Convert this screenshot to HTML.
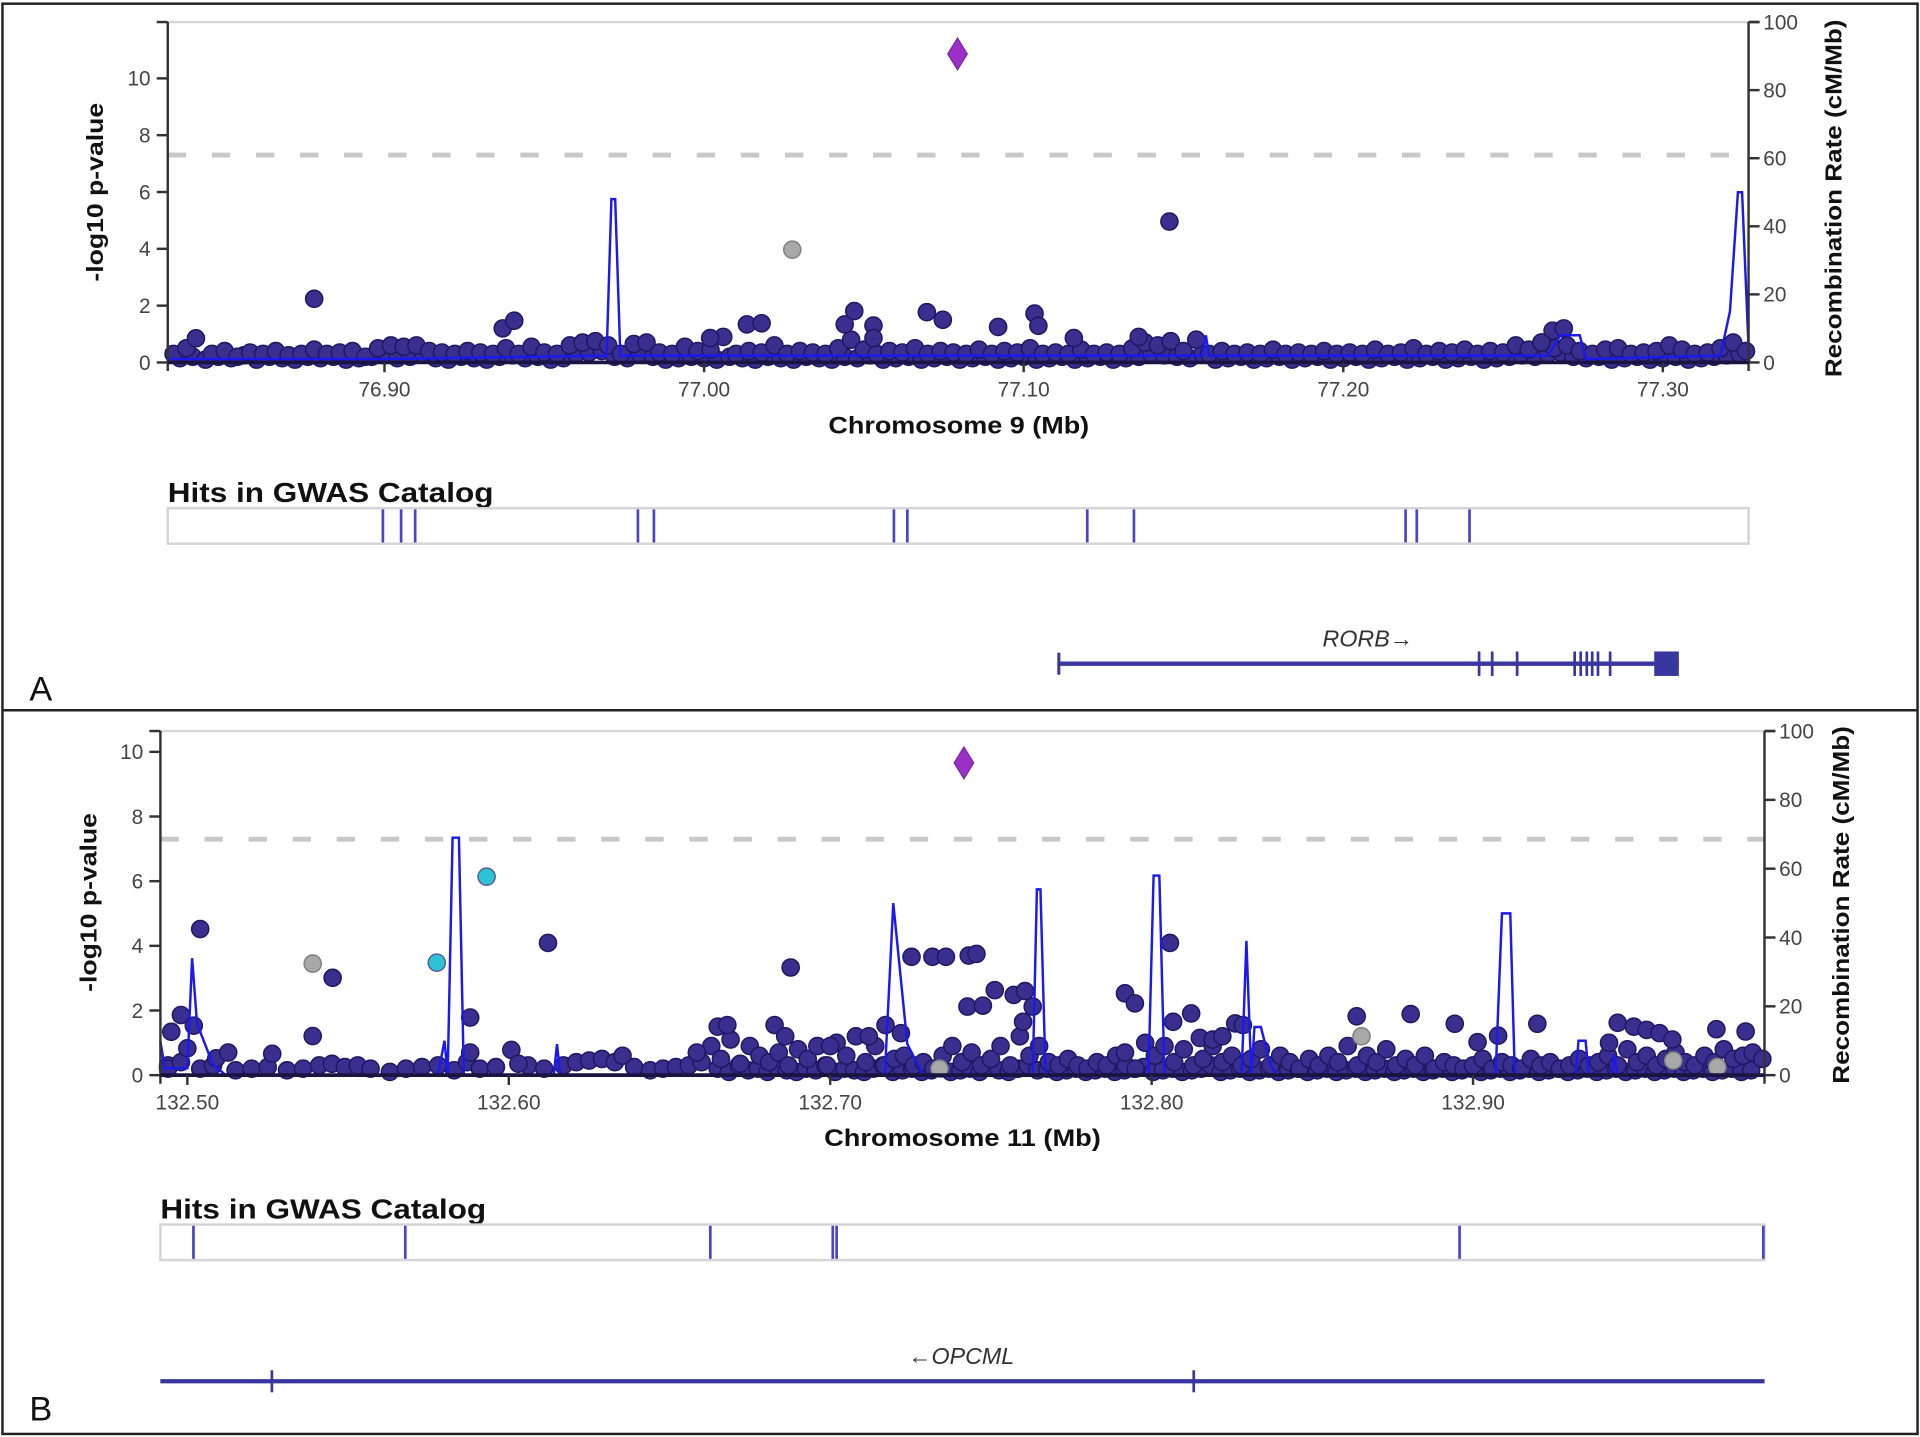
<!DOCTYPE html>
<html><head><meta charset="utf-8"><style>
html,body{margin:0;padding:0;background:#fff;}
svg{display:block;font-family:"Liberation Sans",Arial,sans-serif;}
</style></head><body>
<svg id="fig" xmlns="http://www.w3.org/2000/svg" width="1920" height="1437" viewBox="0 0 1568 1173.5" preserveAspectRatio="none">
<rect x="2" y="3" width="1564" height="1168" fill="#fff" stroke="#222" stroke-width="2"/>
<line x1="2" y1="580" x2="1566" y2="580" stroke="#222" stroke-width="2"/>
<text x="24" y="572" font-size="28" fill="#111">A</text>
<text x="24" y="1160" font-size="28" fill="#111">B</text>
</svg>
<script>
// ===== Panel A data (chr9) =====
const aTicksX = [76.90, 77.00, 77.10, 77.20, 77.30];
const aTickLabelsX = ["76.90", "77.00", "77.10", "77.20", "77.30"];
const aSnpPos = [76.834,76.838,76.841,76.846,76.850,76.854,76.858,76.862,76.866,76.870,76.874,76.878,76.882,76.886,76.890,76.894,76.898,76.902,76.906,76.910,76.914,76.918,76.922,76.926,76.930,76.934,76.938,76.942,76.946,76.950,76.954,76.958,76.962,76.966,76.970,76.974,76.978,76.982,76.986,76.990,76.994,76.998,77.002,77.006,77.010,77.014,77.018,77.022,77.026,77.030,77.034,77.038,77.042,77.046,77.050,77.054,77.058,77.062,77.066,77.070,77.074,77.078,77.082,77.086,77.090,77.094,77.098,77.102,77.106,77.110,77.114,77.118,77.122,77.126,77.130,77.134,77.138,77.142,77.146,77.150,77.154,77.158,77.162,77.166,77.170,77.174,77.178,77.182,77.186,77.190,77.194,77.198,77.202,77.206,77.210,77.214,77.218,77.222,77.226,77.230,77.234,77.238,77.242,77.246,77.250,77.254,77.258,77.262,77.266,77.270,77.274,77.278,77.282,77.286,77.290,77.294,77.298,77.302,77.306,77.310,77.314,77.318,77.322,77.326,
76.878,76.937,76.9406,77.0019,77.0134,77.018,77.044,77.047,77.053,77.053,77.0697,77.0747,77.092,77.1034,77.1046,77.1157,77.1456,77.2655,77.269,77.262,77.136];
const aSnpLogP = [0.3,0.5,0.85,0.3,0.4,0.2,0.35,0.3,0.4,0.25,0.3,0.45,0.3,0.35,0.4,0.2,0.5,0.6,0.55,0.6,0.4,0.35,0.3,0.4,0.35,0.3,0.5,0.3,0.55,0.35,0.3,0.6,0.7,0.75,0.6,0.3,0.65,0.7,0.35,0.3,0.55,0.4,0.45,0.9,0.3,0.4,0.35,0.6,0.3,0.4,0.35,0.3,0.5,0.8,0.45,0.3,0.4,0.35,0.5,0.3,0.4,0.35,0.3,0.45,0.3,0.4,0.35,0.5,0.3,0.35,0.3,0.45,0.3,0.35,0.3,0.5,0.7,0.6,0.75,0.4,0.8,0.3,0.4,0.3,0.35,0.3,0.45,0.3,0.35,0.3,0.4,0.3,0.35,0.3,0.45,0.3,0.35,0.5,0.3,0.4,0.35,0.45,0.3,0.4,0.35,0.6,0.45,0.7,0.5,0.6,0.4,0.3,0.45,0.5,0.3,0.35,0.4,0.6,0.45,0.3,0.35,0.5,0.7,0.4,
2.24,1.2,1.47,0.86,1.34,1.38,1.34,1.81,1.3,0.86,1.77,1.5,1.25,1.72,1.29,0.86,4.96,1.12,1.2,0.7,0.9];
// dense low-lying SNPs forming the baseline band
const aLowPos = [76.836,76.840,76.844,76.848,76.852,76.856,76.860,76.864,76.868,76.872,76.876,76.880,76.884,76.888,76.892,76.896,76.900,76.904,76.908,76.912,76.916,76.920,76.924,76.928,76.932,76.936,76.940,76.944,76.948,76.952,76.956,76.960,76.964,76.968,76.972,76.976,76.980,76.984,76.988,76.992,76.996,77.000,77.004,77.008,77.012,77.016,77.020,77.024,77.028,77.032,77.036,77.040,77.044,77.048,77.052,77.056,77.060,77.064,77.068,77.072,77.076,77.080,77.084,77.088,77.092,77.096,77.100,77.104,77.108,77.112,77.116,77.120,77.124,77.128,77.132,77.136,77.140,77.144,77.148,77.152,77.156,77.160,77.164,77.168,77.172,77.176,77.180,77.184,77.188,77.192,77.196,77.200,77.204,77.208,77.212,77.216,77.220,77.224,77.228,77.232,77.236,77.240,77.244,77.248,77.252,77.256,77.260,77.264,77.268,77.272,77.276,77.280,77.284,77.288,77.292,77.296,77.300,77.304,77.308,77.312,77.316,77.320,77.324];
const aLowLogP = [0.15,0.2,0.1,0.2,0.15,0.25,0.1,0.2,0.15,0.1,0.2,0.15,0.2,0.1,0.15,0.2,0.25,0.15,0.2,0.3,0.15,0.1,0.2,0.15,0.1,0.2,0.25,0.15,0.2,0.1,0.15,0.3,0.35,0.4,0.2,0.15,0.3,0.2,0.1,0.15,0.2,0.15,0.1,0.2,0.15,0.1,0.2,0.15,0.1,0.2,0.15,0.1,0.2,0.15,0.25,0.1,0.15,0.2,0.1,0.15,0.2,0.1,0.15,0.2,0.1,0.15,0.2,0.1,0.15,0.2,0.1,0.15,0.2,0.1,0.15,0.2,0.3,0.25,0.2,0.15,0.3,0.1,0.15,0.2,0.1,0.15,0.2,0.1,0.15,0.2,0.1,0.15,0.2,0.1,0.15,0.2,0.1,0.15,0.2,0.1,0.15,0.2,0.1,0.15,0.2,0.25,0.2,0.3,0.35,0.2,0.15,0.2,0.1,0.15,0.2,0.1,0.15,0.2,0.1,0.15,0.2,0.25,0.3];
const aGrayPos = [77.0276];
const aGrayLogP = [3.97];
const aLeadPos = [77.0793];
const aLeadLogP = [10.86];
const aRecPos = [76.832,76.900,76.9695,76.971,76.9722,76.9738,77.156,77.157,77.158,77.264,77.268,77.274,77.276,77.318,77.321,77.3235,77.3248,77.327];
const aRecRate = [1,1,2,48,48,2,2,8,2,2,8,8,1,2,15,50,50,0];
const aGwasHits = [76.8995,76.9052,76.9096,76.9793,76.9843,77.0594,77.0636,77.1199,77.1345,77.2195,77.223,77.2395];
const aGeneStart = [77.1110];
const aGeneEnd = [77.3050];
const aExons = [77.2425,77.2466,77.2544,77.2724,77.2743,77.2762,77.2779,77.2797,77.2835];
const aBlockStart = [77.2973];

// ===== Panel B data (chr11) =====
const bTicksX = [132.50, 132.60, 132.70, 132.80, 132.90];
const bTickLabelsX = ["132.50", "132.60", "132.70", "132.80", "132.90"];
const bSnpPos = [132.494,132.494,132.498,132.504,132.508,132.515,132.520,132.525,132.531,132.536,132.541,132.545,132.549,132.553,132.557,132.563,132.568,132.573,132.578,132.583,132.587,132.591,132.596,132.606,132.611,132.617,132.621,132.625,132.629,132.633,132.639,132.644,132.648,132.652,132.656,132.660,132.663,132.666,132.669,132.672,132.675,132.678,132.681,132.684,132.687,132.690,132.693,132.696,132.699,132.702,132.705,132.708,132.711,132.714,132.717,132.720,132.723,132.726,132.729,132.732,132.735,132.738,132.741,132.744,132.747,132.750,132.753,132.756,132.759,132.762,132.765,132.768,132.771,132.774,132.777,132.780,132.783,132.786,132.789,132.792,132.795,132.798,132.801,132.804,132.807,132.810,132.813,132.816,132.819,132.822,132.825,132.828,132.831,132.834,132.837,132.840,132.843,132.846,132.849,132.852,132.855,132.858,132.861,132.864,132.867,132.870,132.873,132.876,132.879,132.882,132.885,132.888,132.891,132.894,132.897,132.900,132.903,132.906,132.909,132.912,132.915,132.918,132.921,132.924,132.927,132.930,132.933,132.936,132.939,132.942,132.945,132.948,132.951,132.954,132.957,132.960,132.963,132.966,132.969,132.972,132.975,132.978,132.981,132.984,132.987,132.990,
132.504,132.498,132.495,132.502,132.500,132.509,132.5127,132.5264,132.539,132.5452,132.588,132.588,132.6008,132.603,132.6122,132.6354,132.6585,132.6877,132.6827,132.7172,132.7253,132.7318,132.736,132.7431,132.7455,132.7512,132.7427,132.7475,132.7571,132.7606,132.763,132.760,132.7917,132.7948,132.8057,132.8067,132.8123,132.826,132.8284,132.815,132.819,132.822,132.7917,132.8638,132.8806,132.8943,132.9014,132.920,132.945,132.950,132.954,132.958,132.962,132.9423,132.9757,132.9848,132.9078,132.665,132.668,132.686,132.700,132.712,132.722];
const bSnpLogP = [0.3,0.2,0.4,0.2,0.3,0.15,0.2,0.25,0.15,0.2,0.3,0.35,0.25,0.3,0.2,0.1,0.2,0.25,0.3,0.15,0.4,0.2,0.25,0.3,0.2,0.3,0.4,0.45,0.5,0.4,0.25,0.15,0.2,0.25,0.3,0.4,0.9,0.5,1.1,0.35,0.9,0.6,0.4,0.7,0.3,0.8,0.5,0.9,0.3,1.0,0.6,1.2,0.4,0.9,0.3,0.5,0.6,0.3,0.4,0.2,0.6,0.9,0.4,0.7,0.3,0.5,0.9,0.3,1.2,0.6,0.9,0.4,0.3,0.5,0.3,0.2,0.4,0.3,0.6,0.3,0.2,1.0,0.6,0.9,0.4,0.8,0.3,0.5,0.9,0.4,0.6,0.3,0.5,0.8,0.3,0.6,0.4,0.2,0.5,0.3,0.6,0.4,0.9,0.3,0.6,0.4,0.8,0.3,0.5,0.3,0.6,0.2,0.4,0.3,0.2,0.3,0.5,0.2,0.4,0.3,0.2,0.5,0.3,0.4,0.2,0.3,0.5,0.3,0.4,0.6,0.3,0.8,0.4,0.6,0.3,0.5,0.7,0.4,0.3,0.6,0.4,0.8,0.5,0.6,0.7,0.5,
4.52,1.86,1.34,1.53,0.83,0.52,0.7,0.66,1.21,3.01,1.78,0.7,0.78,0.35,4.09,0.6,0.7,3.33,1.55,1.55,3.66,3.66,3.66,3.7,3.75,2.63,2.12,2.15,2.48,2.6,2.12,1.65,2.53,2.22,4.09,1.65,1.91,1.6,1.55,1.15,1.1,1.2,0.7,1.82,1.89,1.59,1.02,1.59,1.62,1.5,1.4,1.3,1.1,1.0,1.42,1.35,1.22,1.5,1.55,1.2,0.9,1.2,1.3];
const bLowPos = [132.665,132.6685,132.6715,132.6745,132.6775,132.6805,132.6835,132.6865,132.6895,132.6925,132.6955,132.6985,132.7015,132.7045,132.7075,132.7105,132.7135,132.7165,132.7195,132.7225,132.7255,132.7285,132.7315,132.7345,132.7375,132.7405,132.7435,132.7465,132.7495,132.7525,132.7555,132.7585,132.7615,132.7645,132.7675,132.7705,132.7735,132.7765,132.7795,132.7825,132.7855,132.7885,132.7915,132.7945,132.7975,132.8005,132.8035,132.8065,132.8095,132.8125,132.8155,132.8185,132.8215,132.8245,132.8275,132.8305,132.8335,132.8365,132.8395,132.8425,132.8455,132.8485,132.8515,132.8545,132.8575,132.8605,132.8635,132.8665,132.8695,132.8725,132.8755,132.8785,132.8815,132.8845,132.8875,132.8905,132.8935,132.8965,132.8995,132.9025,132.9055,132.9085,132.9115,132.9145,132.9175,132.9205,132.9235,132.9265,132.9295,132.9325,132.9355,132.9385,132.9415,132.9445,132.9475,132.9505,132.9535,132.9565,132.9595,132.9625,132.9655,132.9685,132.9715,132.9745,132.9775,132.9805,132.9835,132.9865];
const bLowLogP = [0.2,0.1,0.3,0.15,0.2,0.1,0.25,0.15,0.1,0.2,0.15,0.3,0.1,0.2,0.15,0.1,0.2,0.3,0.1,0.15,0.2,0.1,0.15,0.2,0.1,0.15,0.2,0.1,0.25,0.15,0.1,0.2,0.3,0.15,0.2,0.1,0.15,0.2,0.1,0.15,0.2,0.1,0.15,0.2,0.25,0.1,0.15,0.2,0.1,0.15,0.2,0.3,0.1,0.15,0.2,0.1,0.15,0.2,0.1,0.15,0.2,0.1,0.15,0.2,0.1,0.15,0.2,0.1,0.15,0.2,0.1,0.15,0.2,0.1,0.15,0.2,0.1,0.15,0.2,0.1,0.15,0.2,0.1,0.15,0.2,0.1,0.15,0.2,0.1,0.15,0.2,0.1,0.15,0.2,0.1,0.15,0.2,0.1,0.15,0.2,0.1,0.15,0.2,0.1,0.15,0.2,0.1,0.15];
const bGrayPos = [132.539,132.9623,132.976,132.8653,132.734];
const bGrayLogP = [3.45,0.45,0.25,1.2,0.2];
const bCyanPos = [132.5776,132.5931];
const bCyanLogP = [3.48,6.14];
const bLeadPos = [132.7416];
const bLeadLogP = [9.66];
const bRecPos = [132.4916,132.493,132.500,132.5015,132.503,132.508,132.512,132.578,132.580,132.581,132.5825,132.5845,132.586,132.614,132.615,132.616,132.717,132.7196,132.724,132.729,132.763,132.7643,132.7654,132.767,132.799,132.8006,132.8024,132.804,132.828,132.8295,132.831,132.832,132.834,132.837,132.839,132.907,132.909,132.9116,132.913,132.932,132.9328,132.935,132.936,132.943,132.944,132.945,132.9907];
const bRecRate = [10,2,2,34,15,3,0,0,10,0,69,69,0,0,9,0,0,50,9,0,0,54,54,0,0,58,58,0,0,39,0,14,14,3,0,0,47,47,0,0,10,10,0,0,6,0,0];
const bGwasHits = [132.5019,132.5678,132.6627,132.7008,132.702,132.8958,132.9903];
const bGeneStart = [132.4916];
const bGeneEnd = [132.9907];
const bExons = [132.5263,132.8131];

const yTicksLeftA = [0,2,4,6,8,10];
const yTicksLeftB = [0,2,4,6,8,10];
const yTicksRight = [0,20,40,60,80,100];

const NS = "http://www.w3.org/2000/svg";
const svg = document.getElementById("fig");
function mk(tag, attrs, parent, txt) {
  const e = document.createElementNS(NS, tag);
  for (const k in attrs) e.setAttribute(k, attrs[k]);
  if (txt !== undefined) e.textContent = txt;
  (parent || svg).appendChild(e);
  return e;
}

function panel(c) {
  const g = mk("g", {});
  
  
  const x = v => c.L + (v - c.x0) * c.kx;
  const y = v => c.y0px - v * c.ky;
  const yr = v => c.y0px - v * (c.y0px - c.top) / 100;

  const tf = mk("line", {x1: c.L, y1: c.top, x2: c.R, y2: c.top, stroke: "#d6d6d6", "stroke-width": 2}, g);
  
  

  const sl = mk("line", {x1: c.L, y1: y(7.3), x2: c.R, y2: y(7.3), stroke: "#c8c8c8", "stroke-width": 4, "stroke-dasharray": "15 21"}, g);
  
  

  const dots = mk("g", {}, g);
  
  
  c.lowPos.forEach((p, i) => {
    const ci = mk("circle", {cx: x(p), cy: y(c.lowLogP[i]), r: 7, fill: "#3a2f8f", stroke: "#1f1760", "stroke-width": 1.2}, dots);
    
    
  });
  c.snpPos.forEach((p, i) => {
    const ci = mk("circle", {cx: x(p), cy: y(c.snpLogP[i]), r: 7, fill: "#3a2f8f", stroke: "#1f1760", "stroke-width": 1.2}, dots);
    
    
  });
  (c.grayPos || []).forEach((p, i) => {
    const ci = mk("circle", {cx: x(p), cy: y(c.grayLogP[i]), r: 7, fill: "#a8a8a8", stroke: "#808080", "stroke-width": 1.2}, dots);
    
    
  });
  (c.cyanPos || []).forEach((p, i) => {
    const ci = mk("circle", {cx: x(p), cy: y(c.cyanLogP[i]), r: 7, fill: "#2cc3d6", stroke: "#5a5a9a", "stroke-width": 1.2}, dots);
    
    
  });

  let d = "";
  c.recPos.forEach((p, i) => { d += (i ? "L" : "M") + x(p).toFixed(1) + "," + yr(c.recRate[i]).toFixed(1); });
  const rl = mk("path", {d: d, fill: "none", stroke: "#1a1aee", "stroke-width": 2}, g);
  
  

  c.leadPos.forEach((p, i) => {
    const cx = x(p), cy = y(c.leadLogP[i]);
    const dm = mk("polygon", {points: `${cx},${cy-13} ${cx+8},${cy} ${cx},${cy+13} ${cx-8},${cy}`, fill: "#9b30c8", stroke: "#7a2aa0", "stroke-width": 1}, g);
    
    
  });

  const ax = mk("g", {stroke: "#333", "stroke-width": 2}, g);
  
  
  mk("line", {x1: c.L, y1: c.top, x2: c.L, y2: c.y0px + 7}, ax);
  mk("line", {x1: c.R, y1: c.top, x2: c.R, y2: c.y0px + 7}, ax);
  mk("line", {x1: c.L, y1: c.y0px, x2: c.R, y2: c.y0px, "stroke-width": 3, stroke: "#1a1440"}, ax);
  mk("line", {x1: c.L - 9, y1: c.top, x2: c.L, y2: c.top}, ax);
  mk("line", {x1: c.R, y1: c.top, x2: c.R + 9, y2: c.top}, ax);

  c.yTicks.forEach(t => {
    mk("line", {x1: c.L - 9, y1: y(t), x2: c.L, y2: y(t), stroke: "#333", "stroke-width": 2}, g);
    const tl = mk("text", {x: c.L - 14, y: y(t) + 6, "text-anchor": "end", "font-size": 17, fill: "#444"}, g, String(t));
    
    
  });
  yTicksRight.forEach(t => {
    mk("line", {x1: c.R, y1: yr(t), x2: c.R + 9, y2: yr(t), stroke: "#333", "stroke-width": 2}, g);
    const tl = mk("text", {x: c.R + 12, y: yr(t) + 6, "font-size": 17, fill: "#444"}, g, String(t));
    
    
  });
  c.ticksX.forEach((t, i) => {
    mk("line", {x1: x(t), y1: c.y0px, x2: x(t), y2: c.y0px + 8, stroke: "#333", "stroke-width": 2}, g);
    const tl = mk("text", {x: x(t), y: c.y0px + 28, "text-anchor": "middle", "font-size": 17, fill: "#444"}, g, c.tickLabelsX[i]);
    
    
  });

  const xt = mk("text", {x: c.xTitleX, y: c.y0px + 58, "text-anchor": "middle", "font-size": 20, "font-weight": "bold", fill: "#111", textLength: c.xTitleLen, lengthAdjust: "spacingAndGlyphs"}, g, c.xTitle);
  
  
  const yt = mk("text", {x: 0, y: 0, transform: `translate(${c.yTitleX},${c.yTitleMid}) rotate(-90)`, "text-anchor": "middle", "font-size": 19, "font-weight": "bold", fill: "#111", textLength: 146, lengthAdjust: "spacingAndGlyphs"}, g, "-log10 p-value");
  
  
  const rt = mk("text", {x: 0, y: 0, transform: `translate(${c.rTitleX},${c.rTitleMid}) rotate(-90)`, "text-anchor": "middle", "font-size": 19, "font-weight": "bold", fill: "#111", textLength: 292, lengthAdjust: "spacingAndGlyphs"}, g, "Recombination Rate (cM/Mb)");
  
  

  const gt = mk("text", {x: c.L, y: c.gwasTop - 5, "font-size": 23, "font-weight": "bold", fill: "#111", textLength: 266, lengthAdjust: "spacingAndGlyphs"}, g, "Hits in GWAS Catalog");
  
  
  const gb = mk("rect", {x: c.L, y: c.gwasTop, width: c.R - c.L, height: 29, fill: "#fff", stroke: "#d4d4d4", "stroke-width": 2}, g);
  
  
  c.gwasHits.forEach(p => {
    const hl = mk("line", {x1: x(p), y1: c.gwasTop + 1, x2: x(p), y2: c.gwasTop + 28, stroke: "#4a45c8", "stroke-width": 2.2}, g);
    
    
  });

  const gy = c.geneY;
  const gl = mk("line", {x1: x(c.geneStart[0]), y1: gy, x2: x(c.geneEnd[0]), y2: gy, stroke: "#3a36a0", "stroke-width": 3.5}, g);
  
  
  if (c.geneStartTick) {
    mk("line", {x1: x(c.geneStart[0]), y1: gy - 9, x2: x(c.geneStart[0]), y2: gy + 9, stroke: "#3a36a0", "stroke-width": 2.5}, g);
  }
  c.exons.forEach(p => {
    const el = mk("line", {x1: x(p), y1: gy - c.exonH, x2: x(p), y2: gy + c.exonH, stroke: "#3a36a0", "stroke-width": 2.2}, g);
    
    
  });
  if (c.blockStart) {
    const bx = x(c.blockStart[0]);
    const br = mk("rect", {x: bx, y: gy - 10, width: x(c.geneEnd[0]) - bx, height: 20, fill: "#3a36a0"}, g);
    
    
  }
  const gn = mk("text", {x: c.geneLabelX, y: c.geneLabelY, "text-anchor": "middle", "font-size": 19, "font-style": "italic", fill: "#333"}, g, c.geneLabel);
  
  
}

panel({
  id: "a", L: 137, R: 1428, top: 18, y0px: 296, x0: 76.9 - 177 / 2610, kx: 2610, ky: 23.2,
  yTicks: yTicksLeftA, ticksX: aTicksX, tickLabelsX: aTickLabelsX,
  snpPos: aSnpPos, snpLogP: aSnpLogP, lowPos: aLowPos, lowLogP: aLowLogP, grayPos: aGrayPos, grayLogP: aGrayLogP,
  leadPos: aLeadPos, leadLogP: aLeadLogP, recPos: aRecPos, recRate: aRecRate,
  xTitle: "Chromosome 9 (Mb)", xTitleX: 783, xTitleLen: 213,
  yTitleX: 84, yTitleMid: 157, rTitleX: 1504, rTitleMid: 162,
  gwasTop: 415, gwasHits: aGwasHits,
  geneY: 542, geneStart: aGeneStart, geneEnd: aGeneEnd, exons: aExons, exonH: 10, blockStart: aBlockStart, geneStartTick: true,
  geneLabel: "RORB\u2192", geneLabelX: 1117, geneLabelY: 528
});

panel({
  id: "b", L: 131, R: 1441, top: 597, y0px: 878, x0: 132.5 - 22 / 2625, kx: 2625, ky: 26.4,
  yTicks: yTicksLeftB, ticksX: bTicksX, tickLabelsX: bTickLabelsX,
  snpPos: bSnpPos, snpLogP: bSnpLogP, lowPos: bLowPos, lowLogP: bLowLogP, grayPos: bGrayPos, grayLogP: bGrayLogP, cyanPos: bCyanPos, cyanLogP: bCyanLogP,
  leadPos: bLeadPos, leadLogP: bLeadLogP, recPos: bRecPos, recRate: bRecRate,
  xTitle: "Chromosome 11 (Mb)", xTitleX: 786, xTitleLen: 226,
  yTitleX: 79, yTitleMid: 737, rTitleX: 1510, rTitleMid: 739,
  gwasTop: 1000, gwasHits: bGwasHits,
  geneY: 1128, geneStart: bGeneStart, geneEnd: bGeneEnd, exons: bExons, exonH: 9, blockStart: null, geneStartTick: false,
  geneLabel: "\u2190OPCML", geneLabelX: 785, geneLabelY: 1114
});
</script>
</body></html>
